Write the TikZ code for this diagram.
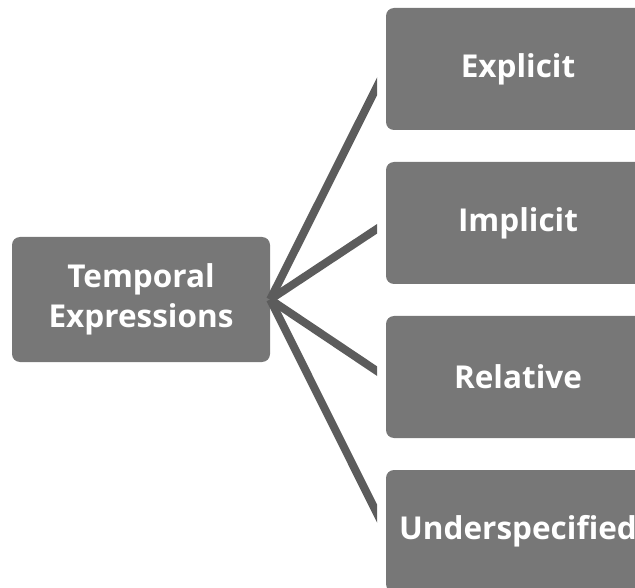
\documentclass[tikz,border=0pt]{standalone}
\usepackage{fontspec}
\setmainfont{Open Sans}
\usetikzlibrary{positioning}

\begin{document}
\begin{tikzpicture}[x=1pt, y=-1pt,
    box/.style={draw=none, fill=boxgray, rounded corners=8pt, text=white,
        font=\fontsize{31.5}{40}\selectfont\bfseries, align=center, inner sep=0pt},
    leaf/.style={box, minimum width=264pt, minimum height=122pt},
    link/.style={draw=linkgray, line width=8pt}]
    \definecolor{boxgray}{HTML}{777777}
    \definecolor{linkgray}{HTML}{5C5C5C}
    \useasboundingbox (0,0) rectangle (635,588);

    % Root
    \node[box, minimum width=258pt, minimum height=125pt] (root) at (141,299.5) {Temporal\\Expressions};

    % Leaves
    \node[leaf] (explicit) at (518,69) {Explicit};
    \node[leaf] (implicit) at (518,223) {Implicit};
    \node[leaf] (relative) at (518,377) {Relative};
    \node[leaf] (under) at (518,531) {Underspecified};

    % Links, cut straight before the leaves
    \begin{scope}
        \clip (0,0) rectangle (377,588);
        \foreach \n in {explicit, implicit, relative, under}
            \draw[link] (root.east) -- (\n.west);
    \end{scope}
\end{tikzpicture}
\end{document}
